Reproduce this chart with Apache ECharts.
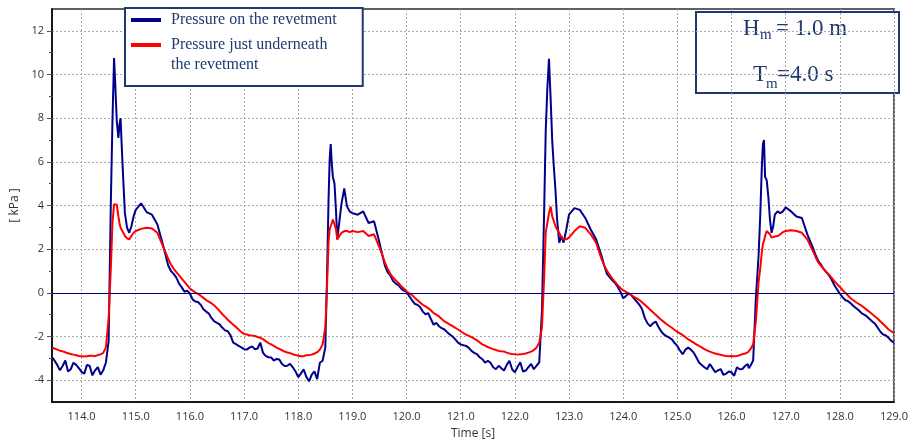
<!DOCTYPE html>
<html><head><meta charset="utf-8">
<script src="https://cdn.jsdelivr.net/npm/echarts@6/dist/echarts.min.js"></script>
<style>html,body{margin:0;padding:0;background:#fff}#c{width:911px;height:445px}</style>
</head><body><div id="c"></div>
<script>
// Time [s] (main samples)
const time = [
113.46,113.5,113.6,113.7,113.8,113.9,114.0,114.1,114.2,114.3,114.4,
114.45,114.5,114.54,114.57,114.6,114.62,114.65,114.68,114.7,114.72,114.74,114.77,114.8,114.84,114.88,114.92,114.96,
115.0,115.1,115.2,115.3,115.4,115.5,115.6,115.7,115.8,115.9,
116.0,116.1,116.2,116.3,116.4,116.5,116.6,116.7,116.8,116.9,
117.0,117.1,117.2,117.3,117.4,117.5,117.6,117.7,117.8,117.9,
118.0,118.1,118.2,118.3,118.4,
118.45,118.5,118.53,118.56,118.58,118.6,118.62,118.64,118.67,118.7,118.72,118.75,118.8,118.85,118.9,118.95,
119.0,119.1,119.2,119.3,119.4,119.5,119.6,119.7,119.8,119.9,
120.0,120.1,120.2,120.3,120.4,120.5,120.6,120.7,120.8,120.9,
121.0,121.1,121.2,121.3,121.4,121.5,121.6,121.7,121.8,121.9,
122.0,122.1,122.2,122.3,122.4,
122.45,122.5,122.54,122.57,122.6,122.63,122.66,122.69,122.72,122.75,122.78,122.82,122.86,122.9,122.95,
123.0,123.1,123.2,123.3,123.4,123.5,123.6,123.7,123.8,123.9,
124.0,124.1,124.2,124.3,124.4,124.5,124.6,124.7,124.8,124.9,
125.0,125.1,125.2,125.3,125.4,125.5,125.6,125.7,125.8,125.9,
126.0,126.1,126.2,126.3,126.35,
126.4,126.45,126.5,126.53,126.56,126.58,126.6,126.62,126.65,126.68,126.71,126.74,126.77,126.8,126.85,126.9,126.95,
127.0,127.1,127.2,127.3,127.4,127.5,127.6,127.7,127.8,127.9,
128.0,128.1,128.2,128.3,128.4,128.5,128.6,128.7,128.8,128.9,129.0
];
// Pressure on the revetment [kPa] (main samples)
const pressureOn = [
-2.96,-3.1,-3.55,-3.1,-3.5,-3.3,-3.62,-3.3,-3.78,-3.4,-3.55,
-3.19,-2.2,4.1,7.87,10.75,9.67,7.87,7.1,7.7,8.0,6.81,5.16,3.65,2.98,2.75,3.05,3.5,
3.8,4.1,3.7,3.58,3.13,2.23,1.25,0.87,0.42,0.05,
-0.03,-0.4,-0.55,-0.86,-1.16,-1.38,-1.6,-1.76,-2.28,-2.43,
-2.58,-2.51,-2.58,-2.28,-2.89,-2.96,-3.03,-3.26,-3.34,-3.41,
-3.86,-3.5,-4.05,-3.6,-3.2,
-3.11,-2.51,0.5,4.26,6.06,6.81,5.91,5.31,5.01,3.65,2.45,3.05,4.1,4.78,3.96,3.73,
3.65,3.58,3.73,3.2,3.28,2.3,1.25,0.8,0.42,0.2,
0.05,-0.33,-0.55,-0.86,-0.93,-1.46,-1.53,-1.68,-1.91,-2.13,
-2.36,-2.43,-2.66,-2.81,-3.04,-3.11,-3.41,-3.34,-3.56,-3.11,
-3.64,-3.18,-3.56,-3.26,-3.34,
-3.19,-0.86,3.65,7.42,9.37,10.72,8.92,6.96,5.76,4.71,3.36,2.3,2.6,2.3,2.9,
3.58,3.88,3.8,3.43,2.9,2.45,1.7,0.87,0.57,0.27,
-0.25,-0.03,-0.25,-0.55,-1.16,-1.53,-1.31,-1.76,-1.98,-2.13,
-2.43,-2.81,-2.51,-2.73,-3.19,-3.41,-3.26,-3.64,-3.49,-3.71,
-3.64,-3.41,-3.49,-3.26,-3.34,
-3.1,-0.25,1.7,3.5,5.76,6.81,7.0,5.31,5.16,4.41,3.36,2.75,3.05,3.58,3.73,3.65,3.73,
3.92,3.73,3.5,3.43,2.68,2.08,1.47,1.1,0.8,0.35,
-0.03,-0.33,-0.48,-0.7,-0.93,-1.08,-1.31,-1.6,-1.91,-2.06,-2.28
];
// Pressure just underneath the revetment [kPa] (main samples)
const pressureUnder = [
-2.51,-2.55,-2.65,-2.72,-2.8,-2.86,-2.9,-2.9,-2.88,-2.85,-2.75,
-2.5,-1.15,1.1,3.2,4.05,4.1,4.05,3.5,3.2,2.98,2.9,2.75,2.6,2.5,2.45,2.6,2.75,
2.83,2.93,2.98,2.95,2.75,2.15,1.55,1.1,0.8,0.5,
0.2,0.02,-0.13,-0.33,-0.48,-0.7,-0.98,-1.23,-1.46,-1.68,
-1.88,-1.94,-1.98,-2.06,-2.21,-2.36,-2.51,-2.63,-2.73,-2.81,
-2.88,-2.9,-2.85,-2.78,-2.6,
-2.36,-1.6,0.2,2.3,2.9,3.05,3.2,3.36,3.36,2.9,2.45,2.53,2.75,2.83,2.83,2.78,
2.83,2.78,2.83,2.6,2.68,2.08,1.4,0.87,0.57,0.32,
0.07,-0.1,-0.33,-0.55,-0.7,-0.93,-1.08,-1.31,-1.46,-1.6,
-1.76,-1.91,-2.03,-2.18,-2.36,-2.48,-2.58,-2.66,-2.69,-2.78,
-2.81,-2.81,-2.78,-2.69,-2.51,
-2.28,-1.6,0.65,2.75,3.2,3.65,3.96,3.5,3.28,3.05,2.9,2.75,2.53,2.45,2.45,
2.53,2.83,3.05,2.98,2.68,2.3,1.55,1.02,0.65,0.35,
0.12,-0.03,-0.18,-0.33,-0.55,-0.78,-1.0,-1.23,-1.43,-1.6,
-1.79,-1.94,-2.13,-2.28,-2.43,-2.58,-2.69,-2.78,-2.84,-2.89,
-2.89,-2.89,-2.81,-2.73,-2.58,
-2.36,-1.31,0.5,1.1,1.85,2.23,2.38,2.6,2.83,2.83,2.68,2.53,2.53,2.58,2.6,2.68,2.78,
2.83,2.87,2.83,2.75,2.45,1.93,1.4,1.1,0.83,0.53,
0.27,0.0,-0.25,-0.43,-0.59,-0.78,-0.98,-1.19,-1.43,-1.68,-1.83
];
// Extra samples read in the troughs and falling flanks [s]
const timeFine = [
113.55,113.65,113.75,113.85,113.95,114.05,114.15,114.25,114.35,114.42,
115.65,115.75,115.85,115.95,116.05,116.15,116.25,116.35,116.45,116.55,116.65,116.75,116.85,116.95,117.05,117.15,117.25,
117.35,117.45,117.55,117.65,117.75,117.85,117.95,118.05,118.15,118.25,118.35,
119.65,119.75,119.85,119.95,120.05,120.15,120.25,120.35,120.45,120.55,120.65,120.75,120.85,120.95,121.05,121.15,121.25,
121.35,121.45,121.55,121.65,121.75,121.85,121.95,122.05,122.15,122.25,122.35,
123.65,123.75,123.85,123.95,124.05,124.15,124.25,124.35,124.45,124.55,124.65,124.75,124.85,124.95,125.05,125.15,125.25,
125.35,125.45,125.55,125.65,125.75,125.85,125.95,126.05,126.15,126.25,126.32,
127.55,127.65,127.75,127.85,127.95,128.05,128.15,128.25,128.35,128.45,128.55,128.65,128.75,128.85,128.95
];
const pressureOnFine = [
-3.3,-3.35,-3.6,-3.2,-3.45,-3.7,-3.35,-3.55,-3.75,-3.4,
1.0,0.7,0.25,0.1,-0.3,-0.42,-0.75,-0.95,-1.3,-1.45,-1.72,-1.95,-2.35,-2.5,-2.6,-2.45,-2.55,
-2.75,-2.95,-3.1,-3.05,-3.35,-3.25,-3.6,-3.7,-3.85,-3.75,-3.95,
0.95,0.55,0.35,0.1,-0.15,-0.5,-0.65,-0.98,-1.2,-1.38,-1.62,-1.8,-2.0,-2.28,-2.4,-2.52,-2.75,
-2.95,-3.2,-3.2,-3.5,-3.45,-3.3,-3.5,-3.4,-3.6,-3.4,-3.5,
1.25,0.72,0.45,0.05,-0.15,-0.1,-0.4,-0.75,-1.4,-1.4,-1.55,-1.9,-2.05,-2.3,-2.65,-2.6,-2.6,
-2.95,-3.3,-3.5,-3.45,-3.55,-3.75,-3.6,-3.8,-3.5,-3.35,-3.45,
1.75,1.3,0.95,0.6,0.15,-0.2,-0.38,-0.6,-0.8,-1.0,-1.2,-1.42,-1.78,-1.95,-2.2
];
const pressureUnderFine = [
-2.6,-2.68,-2.77,-2.83,-2.89,-2.92,-2.88,-2.9,-2.82,-2.7,
1.3,0.95,0.65,0.35,0.1,-0.05,-0.23,-0.4,-0.58,-0.84,-1.1,-1.35,-1.57,-1.8,-1.91,-1.96,-2.02,
-2.12,-2.3,-2.43,-2.57,-2.69,-2.76,-2.85,-2.9,-2.86,-2.83,-2.72,
1.1,0.7,0.45,0.2,-0.02,-0.22,-0.44,-0.62,-0.8,-1.0,-1.2,-1.38,-1.53,-1.68,-1.84,-1.97,-2.1,
-2.27,-2.42,-2.53,-2.62,-2.68,-2.74,-2.8,-2.83,-2.8,-2.74,-2.62,
1.25,0.82,0.5,0.22,0.04,-0.1,-0.25,-0.44,-0.66,-0.89,-1.12,-1.33,-1.52,-1.7,-1.86,-2.03,-2.2,
-2.36,-2.5,-2.64,-2.74,-2.81,-2.87,-2.9,-2.9,-2.86,-2.78,-2.68,
1.65,1.25,0.96,0.68,0.4,0.13,-0.12,-0.34,-0.51,-0.68,-0.88,-1.08,-1.31,-1.55,-1.76
];
const xTicks = [114,115,116,117,118,119,120,121,122,123,124,125,126,127,128,129];
const yTicks = [-4,-2,0,2,4,6,8,10,12];
const yMinorTicks = [-3,-1,1,3,5,7,9,11];
const seriesNames = ['Pressure on the revetment', 'Pressure just underneath\nthe revetment'];
const seriesColors = ['#00008b', '#ff0000'];

const chart = echarts.init(document.getElementById('c'));
const pair = (main, fine) => time.map((t, i) => [t, main[i]])
  .concat(timeFine.map((t, i) => [t, fine[i]]))
  .sort((a, b) => a[0] - b[0]);
const axisText = {fontFamily: 'Open Sans', fontSize: 11, color: '#333'};
const navy = '#1f3a6e';
const gridLine = {lineStyle: {color: '#a8a8a8', width: 1, type: [2, 2]}};
const serif = '"Liberation Serif"';

chart.setOption({
  animation: false,
  grid: {left: 52, right: 13, top: 9, bottom: 37, show: true, borderColor: '#5f5f5f', borderWidth: 2},
  xAxis: {
    type: 'value', min: 113.454, max: 129,
    name: 'Time [s]', nameLocation: 'middle', nameGap: 26,
    nameTextStyle: {fontFamily: 'Open Sans', fontSize: 12, color: '#333'},
    axisLine: {onZero: false, lineStyle: {color: '#000', width: 1.5}},
    axisTick: {show: false, customValues: xTicks},
    axisLabel: Object.assign({customValues: xTicks, margin: 9, formatter: v => v.toFixed(1), showMaxLabel: true}, axisText),
    splitLine: Object.assign({show: true}, gridLine)
  },
  yAxis: [{
    type: 'value', min: -5, max: 13,
    name: '[ kPa ]', nameLocation: 'middle', nameGap: 27,
    nameTextStyle: {fontFamily: 'Open Sans', fontSize: 12, color: '#333'},
    axisLine: {show: true, onZero: false, lineStyle: {color: '#000', width: 1.5}},
    axisTick: {show: true, customValues: yTicks, length: 5, lineStyle: {color: '#555'}},
    axisLabel: Object.assign({customValues: yTicks, margin: 8}, axisText),
    splitLine: Object.assign({show: true}, gridLine)
  }, {
    type: 'value', min: -5, max: 13, position: 'left',
    axisLine: {show: false},
    axisTick: {show: true, customValues: yMinorTicks, length: 3, lineStyle: {color: '#555'}},
    axisLabel: {show: false},
    splitLine: {show: false}
  }],
  legend: {
    orient: 'vertical', left: 125, top: 8,
    backgroundColor: '#fff', borderColor: navy, borderWidth: 2, borderRadius: 0,
    padding: [2, 26, 11, 6],
    itemWidth: 30, itemHeight: 4, itemGap: -15, icon: 'rect',
    formatter: name => name === seriesNames[1] ? ' \n' + name : name,
    textStyle: {fontFamily: 'Liberation Serif', fontSize: 16, color: navy, lineHeight: 20, padding: [0, 0, 0, 5]},
    data: seriesNames
  },
  graphic: [{
    type: 'group', left: 695, top: 11,
    children: [
      {type: 'rect', shape: {x: 0, y: 0, width: 203, height: 81}, style: {fill: '#fff', stroke: navy, lineWidth: 2}},
      {type: 'text', x: 47, y: 17, style: {text: 'H', font: '23px ' + serif, fill: navy, verticalAlign: 'middle'}},
      {type: 'text', x: 64, y: 23, style: {text: 'm', font: '15px ' + serif, fill: navy, verticalAlign: 'middle'}},
      {type: 'text', x: 80, y: 17, style: {text: '= 1.0 m', font: '23px ' + serif, fill: navy, verticalAlign: 'middle'}},
      {type: 'text', x: 57, y: 63, style: {text: 'T', font: '23px ' + serif, fill: navy, verticalAlign: 'middle'}},
      {type: 'text', x: 70, y: 72, style: {text: 'm', font: '15px ' + serif, fill: navy, verticalAlign: 'middle'}},
      {type: 'text', x: 81, y: 63, style: {text: '=4.0 s', font: '23px ' + serif, fill: navy, verticalAlign: 'middle'}}
    ]
  }],
  series: [{
    name: seriesNames[0], type: 'line', data: pair(pressureOn, pressureOnFine), showSymbol: false,
    color: seriesColors[0], lineStyle: {width: 2, color: seriesColors[0]},
    markLine: {silent: true, symbol: 'none', label: {show: false},
      lineStyle: {color: '#000080', width: 1, type: 'solid'}, data: [{yAxis: 0}]}
  }, {
    name: seriesNames[1], type: 'line', data: pair(pressureUnder, pressureUnderFine), showSymbol: false,
    color: seriesColors[1], lineStyle: {width: 2, color: seriesColors[1]}
  }]
});
</script>
</body></html>
